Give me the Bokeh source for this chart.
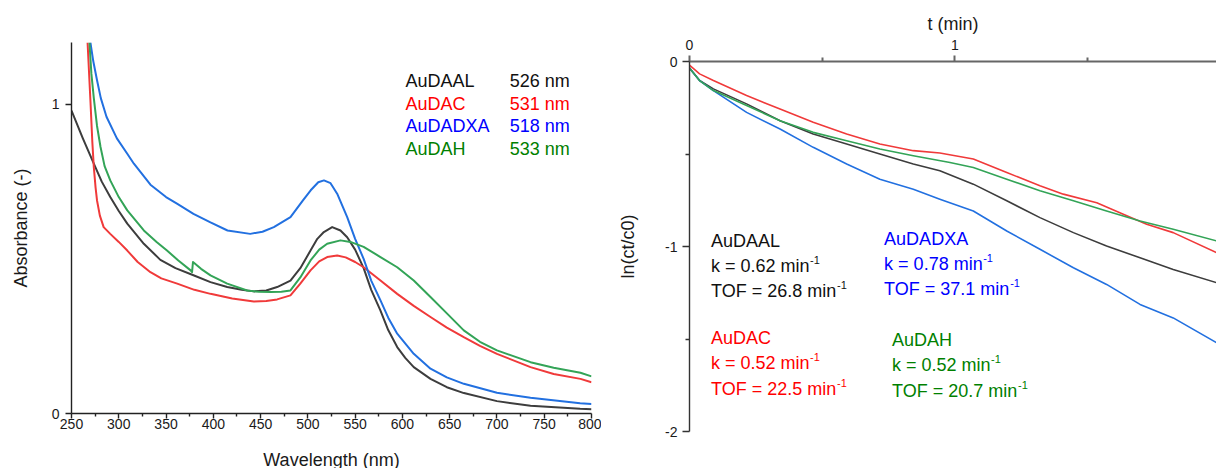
from bokeh.plotting import figure
from bokeh.layouts import row, column
from bokeh.models import Range1d, FixedTicker, Label
from bokeh.embed import file_html
from bokeh.resources import INLINE

FONT = "Liberation Sans"

# ---------------- Left panel: UV-vis spectra ----------------
wl_ticks = [250, 300, 350, 400, 450, 500, 550, 600, 650, 700, 750, 800]
wl_minor = [275, 325, 375, 425, 475, 525, 575, 625, 675, 725, 775]
abs_ticks = [0, 1]
abs_tick_labels = ["0", "1"]

wl_AuDAAL = [250, 262, 273.6, 282, 291, 300, 309, 326.5, 344, 360, 379, 397, 414.7, 430, 442.8, 456, 467.5, 481.6,
             492, 502.8, 510, 516.9, 525.7, 534.5, 541.6, 550, 559, 567, 576.8, 585, 594.5, 603, 612, 629.7, 647,
             665, 700, 735.5, 788, 800]
abs_AuDAAL = [0.98, 0.89, 0.808, 0.75, 0.70, 0.655, 0.614, 0.549, 0.497, 0.47, 0.447, 0.425, 0.409, 0.40, 0.395,
              0.398, 0.409, 0.43, 0.47, 0.527, 0.565, 0.587, 0.603, 0.592, 0.57, 0.53, 0.47, 0.40, 0.333, 0.27,
              0.215, 0.18, 0.150, 0.112, 0.085, 0.066, 0.040, 0.025, 0.015, 0.014]

wl_AuDAC = [267, 270, 272, 273.6, 275.5, 277, 280, 284, 291, 300, 309, 320, 333.5, 345, 361.8, 380, 397, 420, 442.8,
            456, 467.5, 481.6, 492, 502.8, 512, 520.4, 531, 540, 550, 559, 576.8, 594.5, 612, 629.7, 647, 664.9,
            682, 700, 735.5, 760, 788.3, 800]
abs_AuDAC = [1.2, 1.013, 0.88, 0.797, 0.73, 0.689, 0.64, 0.603, 0.581, 0.555, 0.527, 0.49, 0.457, 0.437, 0.42, 0.40,
             0.387, 0.372, 0.362, 0.364, 0.369, 0.382, 0.42, 0.463, 0.492, 0.506, 0.511, 0.505, 0.49, 0.473, 0.43,
             0.387, 0.348, 0.312, 0.278, 0.247, 0.219, 0.193, 0.15, 0.128, 0.112, 0.101]

wl_AuDADXA = [270, 273, 277, 281, 287, 298, 309, 316, 333.5, 350, 362, 379, 397, 415, 439, 452, 464, 481.6, 495,
              503, 511, 517, 524, 531, 541.6, 550, 559, 567, 576.8, 585, 594.5, 612, 629.7, 647, 665, 700, 735.5,
              788, 800]
abs_AuDADXA = [1.2, 1.14, 1.078, 1.02, 0.96, 0.89, 0.84, 0.808, 0.74, 0.70, 0.678, 0.646, 0.618, 0.592, 0.581, 0.588,
               0.603, 0.635, 0.69, 0.722, 0.748, 0.754, 0.745, 0.711, 0.635, 0.565, 0.50, 0.43, 0.366, 0.31, 0.258,
               0.193, 0.145, 0.117, 0.096, 0.067, 0.051, 0.033, 0.031]

wl_AuDAH = [269, 271, 273.6, 277, 280.7, 285, 291, 300, 309, 326.5, 340, 351, 363, 376, 377.5, 378.5, 387, 397,
            414.7, 435.8, 448, 460.5, 472, 481.6, 492, 502.8, 512, 520.4, 534.5, 545, 559, 576.8, 594.5, 612, 629.7,
            647.3, 664.9, 682, 700, 735.5, 760, 788.3, 800]
abs_AuDAH = [1.2, 1.1, 1.02, 0.93, 0.862, 0.80, 0.754, 0.70, 0.657, 0.592, 0.555, 0.527, 0.495, 0.463, 0.457, 0.49,
             0.468, 0.447, 0.42, 0.398, 0.394, 0.393, 0.394, 0.398, 0.44, 0.495, 0.53, 0.549, 0.56, 0.555, 0.539,
             0.506, 0.473, 0.43, 0.377, 0.323, 0.269, 0.232, 0.204, 0.166, 0.148, 0.132, 0.12]

sample_names = ["AuDAAL", "AuDAC", "AuDADXA", "AuDAH"]
peak_labels = ["526 nm", "531 nm", "518 nm", "533 nm"]

# ---------------- Right panel: kinetics ----------------
t_ticks = [0, 1]
t_minor = [0.5, 1.5]
ln_ticks = [-2, -1, 0]
ln_minor = [-1.5, -0.5]
ln_tick_labels = ["-2", "-1", "0"]

t_AuDAAL = [0, 0.038, 0.09, 0.215, 0.341, 0.466, 0.592, 0.717, 0.843, 0.943, 1.069, 1.195, 1.32, 1.446, 1.571, 1.697, 1.822, 1.986]
ln_AuDAAL = [-0.035, -0.103, -0.148, -0.229, -0.32, -0.392, -0.446, -0.5, -0.554, -0.591, -0.663, -0.753, -0.844, -0.925,
             -0.997, -1.061, -1.124, -1.196]

t_AuDAC = [0, 0.038, 0.09, 0.215, 0.341, 0.466, 0.592, 0.717, 0.843, 0.943, 1.069, 1.195, 1.32, 1.408, 1.534, 1.634, 1.722, 1.822, 1.986]
ln_AuDAC = [-0.02, -0.067, -0.103, -0.184, -0.257, -0.329, -0.392, -0.446, -0.482, -0.495, -0.527, -0.6, -0.672, -0.717,
            -0.763, -0.826, -0.88, -0.925, -1.034]

t_AuDADXA = [0, 0.038, 0.09, 0.215, 0.341, 0.466, 0.592, 0.717, 0.843, 0.943, 1.069, 1.195, 1.32, 1.446, 1.571, 1.697, 1.822, 1.986]
ln_AuDADXA = [-0.035, -0.103, -0.157, -0.275, -0.365, -0.464, -0.554, -0.636, -0.69, -0.744, -0.808, -0.916, -1.015, -1.115,
              -1.205, -1.313, -1.386, -1.521]

t_AuDAH = [0, 0.038, 0.09, 0.215, 0.341, 0.466, 0.592, 0.717, 0.843, 0.981, 1.069, 1.195, 1.32, 1.446, 1.571, 1.697, 1.822, 1.986]
ln_AuDAH = [-0.035, -0.103, -0.157, -0.238, -0.32, -0.383, -0.428, -0.473, -0.509, -0.546, -0.573, -0.636, -0.699, -0.753,
            -0.808, -0.862, -0.907, -0.97]

k_values = ["0.62", "0.52", "0.78", "0.52"]
tof_values = ["26.8", "22.5", "37.1", "20.7"]

# ---------------- styles ----------------
curve_colors = ["#3d3d3d", "#f03a3a", "#2270e0", "#33a457"]
text_colors = ["#111111", "#ff0000", "#0000ff", "#008000"]

# Arial / Liberation Sans advance widths (per 1000 em)
AW = {' ': 278, '=': 584, '.': 278, '0': 556, '1': 556, '2': 556, '3': 556, '4': 556, '5': 556, '6': 556,
      '7': 556, '8': 556, '9': 556, 'k': 500, 'm': 833, 'i': 222, 'n': 556, 'T': 611, 'O': 778, 'F': 611}


def text_width(s, size):
    return sum(AW.get(c, 556) for c in s) * size / 1000.0


def style_axis(ax, color, width):
    ax.axis_line_color = color
    ax.axis_line_width = width
    ax.major_tick_line_color = color
    ax.minor_tick_line_color = color
    ax.major_tick_line_width = width
    ax.minor_tick_line_width = width
    ax.major_tick_in = 0
    ax.minor_tick_in = 0
    ax.major_label_text_font = FONT
    ax.major_label_text_font_size = "14px"
    ax.major_label_text_color = "#1a1a1a"
    ax.axis_label_text_font = FONT
    ax.axis_label_text_font_size = "18px"
    ax.axis_label_text_font_style = "normal"
    ax.axis_label_text_color = "#1a1a1a"


# ---------------- left figure ----------------
p1 = figure(frame_width=520, frame_height=371, min_border_left=71, min_border_right=10,
            min_border_top=42, min_border_bottom=54, output_backend="svg", toolbar_location=None,
            x_range=Range1d(250, 800), y_range=Range1d(0, 1.2))
p1.grid.visible = False
p1.outline_line_color = None
p1.background_fill_color = "white"
p1.border_fill_color = "white"

xa = p1.xaxis[0]
xa.ticker = FixedTicker(ticks=wl_ticks, minor_ticks=wl_minor)
xa.axis_label = "Wavelength (nm)"
style_axis(xa, "#222222", 1.4)
xa.major_tick_out = 5
xa.minor_tick_out = 3
xa.major_label_standoff = 0
xa.axis_label_standoff = 18

ya = p1.yaxis[0]
ya.ticker = FixedTicker(ticks=abs_ticks, minor_ticks=[])
ya.major_label_overrides = {t: l for t, l in zip(abs_ticks, abs_tick_labels)}
ya.axis_label = "Absorbance (-)"
style_axis(ya, "#222222", 1.4)
ya.major_tick_out = 6
ya.major_label_standoff = 6
ya.axis_label_standoff = 18

left_series = [(wl_AuDAAL, abs_AuDAAL), (wl_AuDAC, abs_AuDAC), (wl_AuDADXA, abs_AuDADXA), (wl_AuDAH, abs_AuDAH)]
for (xs, ys), c in zip(left_series, curve_colors):
    p1.line(xs, ys, line_color=c, line_width=2, line_join="round")

legend_y = [1.075, 1.002, 0.930, 0.857]
for name, peak, col, yy in zip(sample_names, peak_labels, text_colors, legend_y):
    p1.add_layout(Label(x=603.3, y=yy, text=name, text_color=col, text_font=FONT,
                        text_font_size="18px", text_baseline="middle", text_align="left"))
    p1.add_layout(Label(x=713.6, y=yy, text=peak, text_color=col, text_font=FONT,
                        text_font_size="18px", text_baseline="middle", text_align="left"))

# ---------------- right figure ----------------
p2 = figure(frame_width=527, frame_height=370, min_border_left=88, min_border_right=0,
            min_border_top=61, min_border_bottom=36, output_backend="svg", toolbar_location=None,
            x_range=Range1d(0, 1.985), y_range=Range1d(-2, 0), x_axis_location="above")
p2.grid.visible = False
p2.outline_line_color = None
p2.background_fill_color = "white"
p2.border_fill_color = "white"

ta = p2.xaxis[0]
ta.ticker = FixedTicker(ticks=t_ticks, minor_ticks=t_minor)
ta.axis_label = "t (min)"
style_axis(ta, "#666666", 2)
ta.major_tick_out = 6
ta.minor_tick_out = 4
ta.major_label_standoff = 6
ta.axis_label_standoff = 3

la = p2.yaxis[0]
la.ticker = FixedTicker(ticks=ln_ticks, minor_ticks=ln_minor)
la.major_label_overrides = {t: l for t, l in zip(ln_ticks, ln_tick_labels)}
la.axis_label = "ln(ct/c0)"
style_axis(la, "#333333", 1.4)
la.major_tick_out = 7
la.minor_tick_out = 4
la.major_label_standoff = 5
la.axis_label_standoff = 24

right_series = [(t_AuDAAL, ln_AuDAAL), (t_AuDAC, ln_AuDAC), (t_AuDADXA, ln_AuDADXA), (t_AuDAH, ln_AuDAH)]
for (xs, ys), c in zip(right_series, curve_colors):
    p2.line(xs, ys, line_color=c, line_width=1.6, line_join="round")

# annotation block anchors (data coordinates): x, y of name row; row step in data units
ann_pos = [(0.081, -0.970), (0.081, -1.496), (0.733, -0.959), (0.763, -1.507)]
row_step = 0.136
for name, kv, tof, col, (ax_, ay_) in zip(sample_names, k_values, tof_values, text_colors, ann_pos):
    lines = [name, "k = %s min" % kv, "TOF = %s min" % tof]
    for i, s in enumerate(lines):
        yy = ay_ - i * row_step
        p2.add_layout(Label(x=ax_, y=yy, text=s, text_color=col, text_font=FONT,
                            text_font_size="18px", text_baseline="middle", text_align="left"))
        if i > 0:
            p2.add_layout(Label(x=ax_, y=yy, x_offset=text_width(s, 18) + 0.5, y_offset=6,
                                text="-1", text_color=col, text_font=FONT,
                                text_font_size="11px", text_baseline="middle", text_align="left"))

layout = row(p1, column(p2))
open("out.html", "w").write(file_html(layout, INLINE))
